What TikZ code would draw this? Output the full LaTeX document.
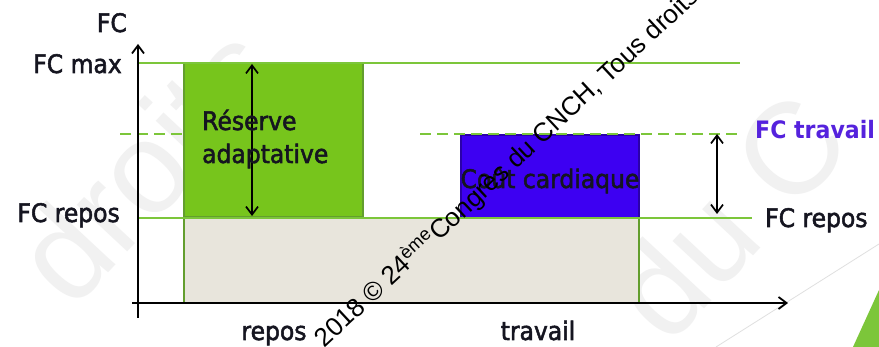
\documentclass[tikz,border=0pt]{standalone}
\usepackage{fontspec}
\setmainfont{DejaVu Sans}
\newfontfamily\lblfont{DejaVu Sans}[FakeBold=2, FakeStretch=0.92]
\newfontfamily\lblboldfont{DejaVu Sans Bold}[FakeStretch=0.92]
\newfontfamily\wmfont{Liberation Sans}
\usetikzlibrary{arrows.meta}
\definecolor{lgreen}{HTML}{7CC63A}
\definecolor{fgreen}{HTML}{77C51C}
\definecolor{bgray}{HTML}{E8E5DC}
\definecolor{vblue}{HTML}{3D00F2}
\definecolor{tviolet}{HTML}{5522DD}
\definecolor{txt}{HTML}{151520}
\definecolor{faint}{HTML}{F1F1F1}
\begin{document}
\begin{tikzpicture}[x=1pt,y=-1pt,
  lbl/.style={font=\lblfont\fontsize{25.5}{30}\selectfont, text=txt, inner sep=0pt},
  gline/.style={draw=lgreen, line width=2.2pt},
  dline/.style={draw=lgreen, line width=2.2pt, dash pattern=on 11pt off 6pt},
  axisarrow/.style={draw=black, line width=1.8pt, -{Straight Barb[length=8pt,width=12pt,line width=1.8pt]}},
  dblarrow/.style={draw=black, line width=1.7pt, {Straight Barb[length=8pt,width=12pt,line width=1.7pt]}-{Straight Barb[length=8pt,width=12pt,line width=1.7pt]}},
  bar/.style={draw=lgreen!80!black, line width=1.4pt, inner sep=0pt, outer sep=0pt},
  wm/.style={font=\wmfont\fontsize{26}{30}\selectfont, text=black, rotate=43, inner sep=0pt},
  bigwm/.style={font=\wmfont\fontsize{130}{130}\selectfont, text=faint, rotate=47, inner sep=0pt}
]
\useasboundingbox (0,0) rectangle (879,347);
\clip (0,0) rectangle (879,347);
\fill[white] (0,0) rectangle (879,347);

% faint background watermark
\node[bigwm, anchor=base west] (bw1) at (72,312) {droits};
\node[bigwm, anchor=base west] (bw2) at (668,348) {du C};

% slide decoration
\draw[draw=black!12, line width=0.8pt] (716,347) -- (879,244);
\fill[lgreen] (853,347) -- (879,290) -- (879,347) -- cycle;

% bars
\node[bar, fill=bgray, minimum width=455pt, minimum height=85pt] (base) at (411.5,260.5) {};
\node[bar, fill=fgreen, minimum width=179pt, minimum height=154pt] (reserve) at (273.5,140) {};
\node[bar, fill=vblue, draw=vblue!70!black, minimum width=178pt, minimum height=83pt] (cout) at (550,176.5) {};

% reference lines
\coordinate (maxL) at (138,63);
\coordinate (maxR) at (740,63);
\coordinate (repL) at (138,218);
\coordinate (repR) at (752,218);
\coordinate (dL1) at (120,134);
\coordinate (dR1) at (184,134);
\coordinate (dL2) at (420,134);
\coordinate (dR2) at (742,134);
\draw[gline] (maxL) -- (maxR);
\draw[gline] (repL) -- (repR);
\draw[dline] (dL1) -- (dR1);
\draw[dline] (dL2) -- (dR2);

% axes
\coordinate (yb) at (138,318);
\coordinate (yt) at (138,44);
\coordinate (xl) at (132,303);
\coordinate (xr) at (788,303);
\draw[axisarrow] (yb) -- (yt);
\draw[axisarrow] (xl) -- (xr);

% double arrows
\coordinate (a1t) at (252,64);
\coordinate (a1b) at (252,216);
\coordinate (a2t) at (717,134);
\coordinate (a2b) at (717,214);
\draw[dblarrow] (a1t) -- (a1b);
\draw[dblarrow] (a2t) -- (a2b);

% labels
\node[lbl, anchor=base east] (fc) at (127,32) {FC};
\node[lbl, anchor=base east] (fcmax) at (122,73) {FC max};
\node[lbl, anchor=base east] (fcrepL) at (120,222) {FC repos};
\node[lbl, anchor=base west] (fcrepR) at (765,227) {FC repos};
\node[lbl, anchor=base west, text=tviolet, font=\lblboldfont\fontsize{24}{30}\selectfont] (fctrav) at (755,139) {FC travail};
\node[lbl, anchor=base west] (res1) at (202,130) {Réserve};
\node[lbl, anchor=base west] (res2) at (202,163) {adaptative};
\node[lbl, anchor=base] (coutlbl) at (550,188) {Coût cardiaque};
\node[lbl, anchor=base] (repos) at (274,340) {repos};
\node[lbl, anchor=base] (travail) at (538,340) {travail};

% copyright watermark
\coordinate (wmp) at (439,242);
\node[wm, anchor=base east] (wma) at (wmp) {2018 © 24\textsuperscript{ème}\ };
\node[wm, anchor=base west] (wmb) at (wmp) {Congrès du CNCH, Tous droits réservés};
\end{tikzpicture}
\end{document}
